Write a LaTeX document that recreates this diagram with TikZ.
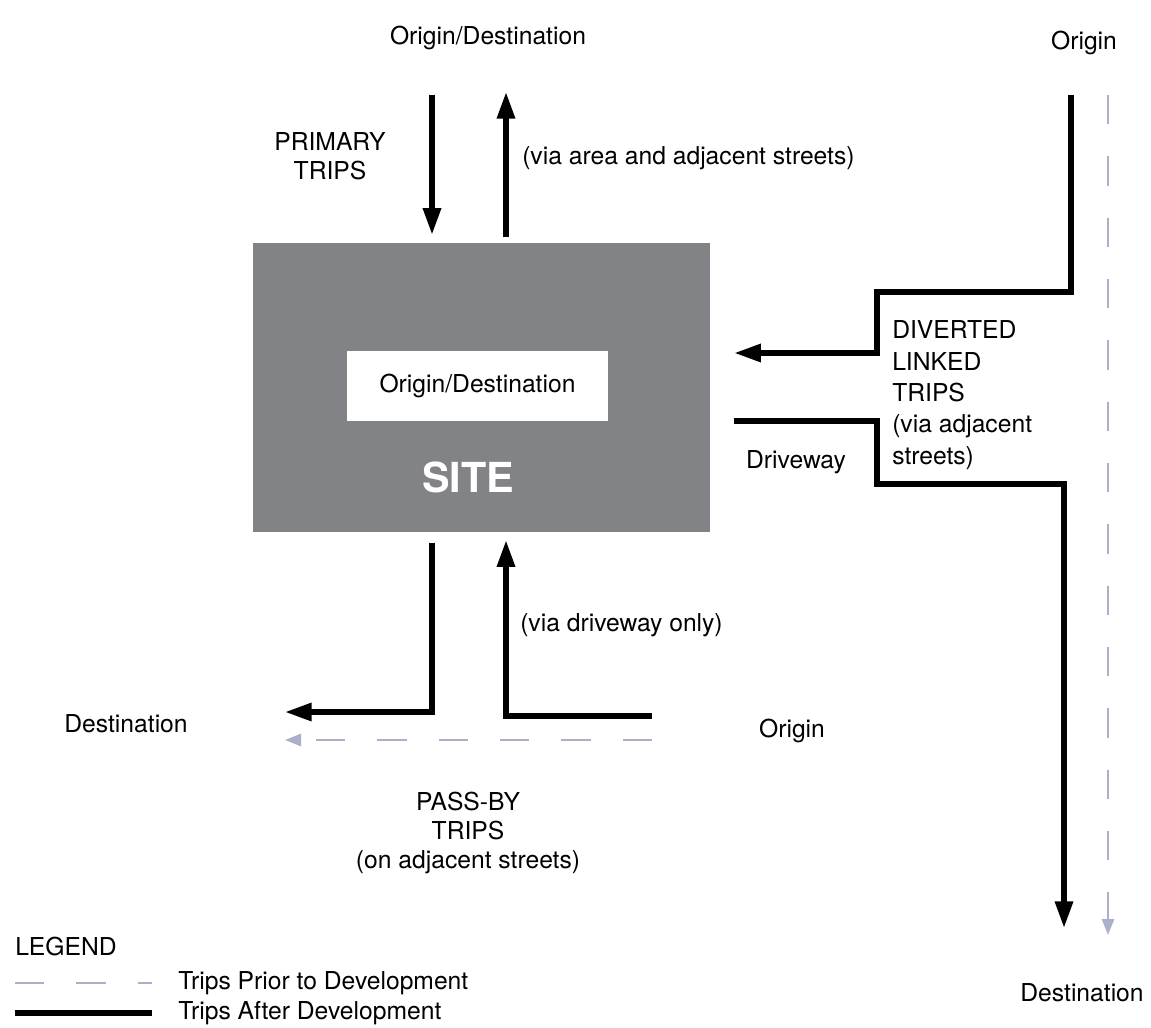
\documentclass[tikz,border=0pt]{standalone}
\usepackage{fontspec}
\setmainfont{TeX Gyre Heros}
\usetikzlibrary{arrows.meta}
\definecolor{sitegray}{RGB}{130,131,135}
\definecolor{priorblue}{RGB}{170,176,202}
\tikzset{
  lbl/.style={font=\fontsize{18.5}{21.5}\selectfont, inner sep=0pt},
  trip/.style={line width=4pt, -{Triangle[length=20pt,width=13pt]}},
  prior/.style={line width=2pt, priorblue, dash pattern=on 22pt off 24pt},
}
\begin{document}
\begin{tikzpicture}[x=0.75pt,y=-0.75pt]
    \useasboundingbox (0,0) rectangle (1151,1027);
    % site
    \node (sit) at (481.5,387.5) [fill=sitegray, minimum width=342.75pt, minimum height=216.75pt] {};
    \node (inr) at (477.5,386) [lbl, fill=white, minimum width=195.75pt, minimum height=52.5pt] {Origin/Destination};
    \node (ste) at (468,477) [font=\fontsize{31}{34}\selectfont\bfseries, text=white, inner sep=0pt] {SITE};
    % labels
    \node (odt) at (488,38)  [lbl] {Origin/Destination};
    \node (org) at (1084,43) [lbl] {Origin};
    \node (pri) at (330,156) [lbl, align=center] {PRIMARY\\TRIPS};
    \node (via) at (522,158) [lbl, anchor=west] {(via area and adjacent streets)};
    \node (div) at (892,395) [lbl, anchor=west, align=left, font=\fontsize{18.5}{23.5}\selectfont] {DIVERTED\\LINKED\\TRIPS\\(via adjacent\\streets)};
    \node (drv) at (796,462) [lbl] {Driveway};
    \node (vdr) at (520,625) [lbl, anchor=west] {(via driveway only)};
    \node (dst) at (126,724) [lbl] {Destination};
    \node (ori) at (792,731) [lbl] {Origin};
    \node (pas) at (468,833) [lbl, align=center] {PASS-BY\\TRIPS\\(on adjacent streets)};
    \node (dsr) at (1082,993) [lbl] {Destination};
    % legend
    \node (lgd) at (15,946)  [lbl, anchor=west] {LEGEND};
    \node (lpr) at (178,983) [lbl, anchor=west] {Trips Prior to Development};
    \node (laf) at (178,1013) [lbl, anchor=west] {Trips After Development};
    % free ends
    \coordinate (pin) at (432,95);
    \coordinate (pou) at (506,92);
    \coordinate (dtp) at (1071,95);
    \coordinate (dbt) at (1064,928);
    \coordinate (bdl) at (285,712);
    \coordinate (bor) at (652,716);
    % trips prior to development
    \draw [prior, -{Triangle[length=12pt,width=9pt]}] (1108,95) -- (1108,935);
    \draw [prior, -{Triangle[length=12pt,width=9pt]}] (652,740) -- (285,740);
    \draw [prior] (lpr.west) ++(-163,0) -- ++(137,0);
    % trips after development
    \draw [trip] (pin) -- ([yshift=6pt]pin |- sit.north);
    \draw [trip] ([yshift=4pt]pou |- sit.north) -- (pou);
    \draw [trip] (dtp) |- (877,292) |- ([xshift=18pt]sit.east |- 0,353);
    \draw [trip] ([xshift=18pt]sit.east |- 0,421) -| (877,484) -| (dbt);
    \draw [trip] ([yshift=-8pt]pin |- sit.south) |- (bdl);
    \draw [trip] (bor) -| ([yshift=-6pt]pou |- sit.south);
    \draw [line width=4pt] (lpr.west) ++(-163,30) -- ++(137,0);
  \end{tikzpicture}
\end{document}
